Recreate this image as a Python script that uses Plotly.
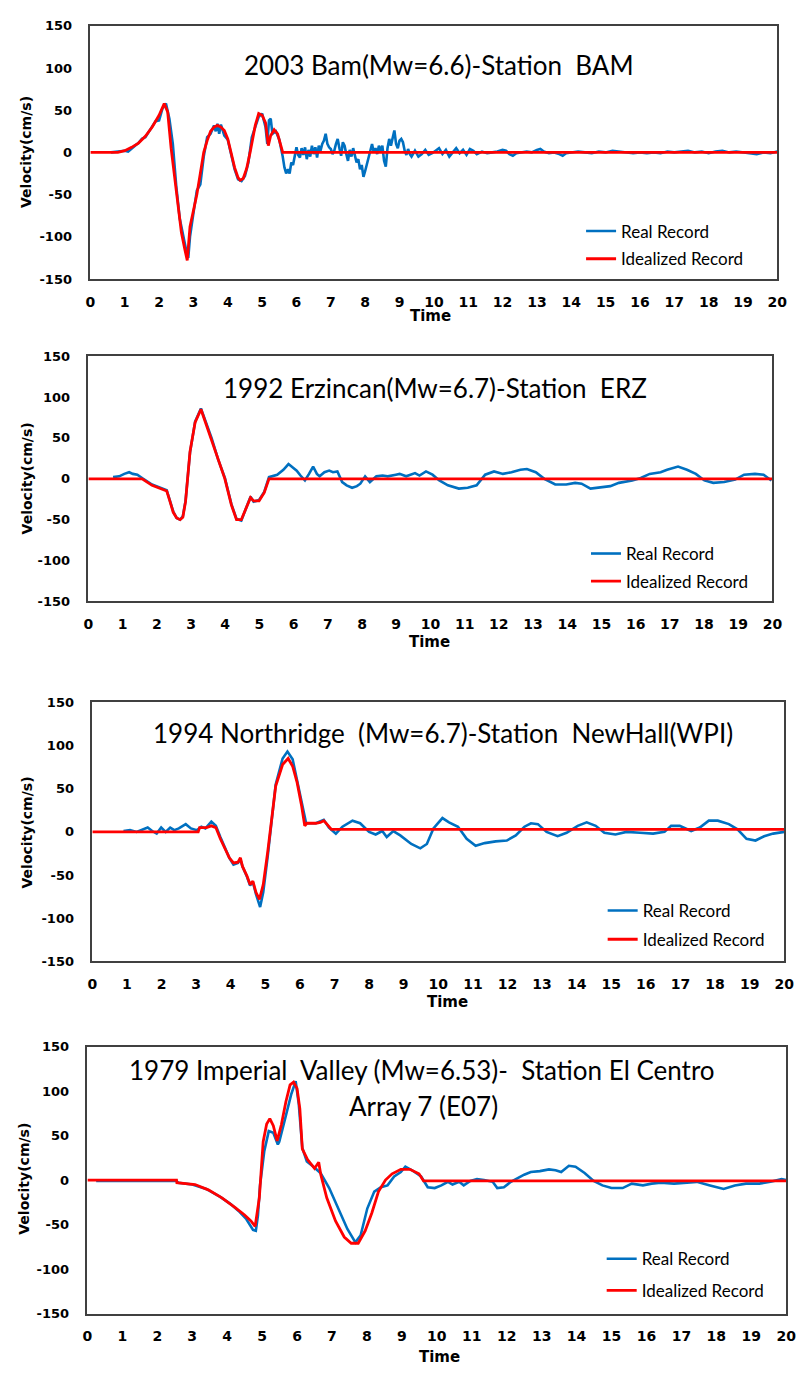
import plotly.graph_objects as go

W, H = 806, 1374

# ---------------- Panel 1 : 2003 Bam ----------------
bam_ideal_t = [0, 0.8, 1.0, 1.2, 1.4, 1.6, 1.8, 2.0, 2.15, 2.25, 2.35, 2.45, 2.55, 2.65, 2.75, 2.82,
               2.9, 3.0, 3.1, 3.2, 3.3, 3.4, 3.5, 3.6, 3.7, 3.8, 3.9, 4.0, 4.1, 4.2, 4.3, 4.36, 4.45,
               4.55, 4.65, 4.72, 4.8, 4.9, 5.0, 5.1, 5.18, 5.25, 5.35, 5.45, 5.55, 5.6, 20]
bam_ideal_v = [0, 0, 2, 6, 11, 19, 30, 44, 58, 48, 5, -30, -65, -95, -115, -128,
               -88, -68, -50, -25, 0, 14, 25, 30, 32, 30, 26, 16, 0, -18, -30, -33, -31,
               -19, 0, 16, 32, 46, 44, 35, 8, 20, 27, 22, 8, 0, 0]
bam_real_t = [0.6, 0.8, 1.0, 1.1, 1.2, 1.3, 1.4, 1.5, 1.6, 1.7, 1.8, 1.9, 2.0, 2.1, 2.2, 2.3, 2.4, 2.5, 2.6, 2.7,
              2.8, 2.85, 2.9, 3.0, 3.1, 3.2, 3.3, 3.4, 3.5, 3.6, 3.65, 3.7, 3.75, 3.8, 3.9, 4.0, 4.1, 4.2, 4.3, 4.4,
              4.5, 4.6, 4.7, 4.8, 4.9, 5.0, 5.1, 5.15, 5.2, 5.25, 5.3, 5.4, 5.5, 5.6, 5.65, 5.7, 5.75, 5.8, 5.85, 5.9,
              6.0, 6.05, 6.1, 6.15, 6.2, 6.25, 6.3, 6.35, 6.4, 6.45, 6.5, 6.55, 6.6, 6.65, 6.7, 6.75, 6.8, 6.85, 6.9, 6.95,
              7.0, 7.05, 7.1, 7.15, 7.2, 7.25, 7.3, 7.35, 7.4, 7.45, 7.5, 7.55, 7.6, 7.65, 7.7, 7.75, 7.8, 7.85, 7.9, 7.95,
              8.0, 8.05, 8.1, 8.15, 8.2, 8.25, 8.3, 8.35, 8.4, 8.45, 8.5, 8.55, 8.6, 8.65, 8.7, 8.75, 8.8, 8.85, 8.9, 8.95,
              9.0, 9.05, 9.1, 9.15, 9.2, 9.25, 9.3, 9.35, 9.45, 9.55, 9.65, 9.75, 9.85, 9.95, 10.05, 10.15, 10.25, 10.35, 10.45, 10.55,
              10.65, 10.75, 10.85, 10.95, 11.05, 11.15, 11.25, 11.4, 11.55, 11.7, 11.85, 12.0, 12.1, 12.2, 12.3, 12.4, 12.55, 12.7, 12.85, 13.0,
              13.1, 13.2, 13.35, 13.5, 13.65, 13.75, 13.85, 14.0, 14.2, 14.4, 14.6, 14.8, 15.0, 15.2, 15.4, 15.6, 15.8, 16.0, 16.2, 16.4,
              16.6, 16.8, 17.0, 17.2, 17.4, 17.6, 17.8, 18.0, 18.2, 18.4, 18.6, 18.8, 19.0, 19.2, 19.4, 19.6, 19.8, 20.0]
bam_real_v = [0, 1, 2, 1, 5, 8, 11, 16, 18, 24, 30, 37, 38, 52, 58, 40, 10, -40, -78, -100,
              -118, -125, -100, -72, -45, -38, -5, 18, 22, 32, 25, 34, 22, 33, 20, 15, -2, -20, -32, -34,
              -28, -12, 18, 30, 42, 46, 30, 10, 38, 40, 22, 25, 15, -5, -18, -25, -20, -25, -12, -15,
              6, -3, -6, 5, -3, 6, -8, 3, -5, 8, -2, 6, -6, 8, 2, 10, 14, 22, 10, 6,
              4, -2, 2, 10, 16, 5, -4, 12, 8, -2, -10, 3, -5, 5, -2, -12, -8, -20, -15, -29,
              -22, -14, -5, 5, 10, 0, 5, -2, 8, 2, 8, -10, -17, 5, 16, 8, 18, 26, 10, 5,
              14, 16, 12, 2, -3, 4, -2, -5, 2, -5, -2, 3, -3, -1, 2, 5, -2, 3, -5, 0,
              5, -1, 3, -3, 4, 2, -2, 1, -1, 0, 1, 3, 2, -2, -4, -1, 0, 1, 0, 3,
              4, 1, -1, 0, -2, -4, -1, 0, 1, 0, -1, 1, 0, 2, 1, 0, -1, 0, -1, 0,
              -1, 1, 0, 1, 2, 0, 1, -1, 1, 2, 0, 1, 0, -1, -2, 0, -1, 1]

# ---------------- Panel 2 : 1992 Erzincan ----------------
erz_ideal_t = [0, 1.57, 1.86, 2.29, 2.38, 2.48, 2.58, 2.68, 2.76, 2.84, 2.97, 3.12, 3.29, 3.45, 3.6,
               3.79, 3.99, 4.18, 4.33, 4.47, 4.62, 4.74, 4.83, 4.99, 5.14, 5.28, 20]
erz_ideal_v = [0, 0, -8, -15, -27, -41, -48, -50, -47, -28, 33, 69, 85, 65, 49,
               23, 0, -32, -50, -50, -36, -23, -27, -27, -17, 0, 0]
erz_real_t = [0.72, 0.9, 1.05, 1.19, 1.3, 1.43, 1.57, 1.86, 2.29, 2.38, 2.48, 2.58, 2.68, 2.76, 2.84, 2.97,
              3.12, 3.29, 3.45, 3.6, 3.79, 3.99, 4.18, 4.33, 4.47, 4.62, 4.74, 4.83, 4.99, 5.14, 5.28, 5.52,
              5.7, 5.85, 5.96, 6.09, 6.2, 6.33, 6.45, 6.57, 6.68, 6.76, 6.9, 7.04, 7.15, 7.28, 7.42, 7.55,
              7.71, 7.85, 7.95, 8.09, 8.23, 8.42, 8.6, 8.75, 8.99, 9.1, 9.29, 9.55, 9.68, 9.87, 10.06, 10.26,
              10.51, 10.83, 11.09, 11.35, 11.6, 11.86, 12.12, 12.37, 12.63, 12.82, 13.08, 13.33, 13.65, 13.97,
              14.23, 14.42, 14.68, 14.94, 15.26, 15.51, 15.9, 16.15, 16.41, 16.73, 16.92, 17.24, 17.5, 17.76,
              18.01, 18.27, 18.59, 18.91, 19.17, 19.49, 19.74, 19.97]
erz_real_v = [2, 3, 6, 8, 6, 5, 1, -7, -14, -26, -40, -48, -50, -46, -27, 32,
              70, 86, 67, 50, 24, 1, -31, -49, -51, -35, -22, -28, -26, -16, 2, 5,
              11, 18, 14, 10, 4, -2, 6, 15, 6, 3, 8, 10, 8, 9, -4, -8,
              -11, -9, -6, 3, -4, 3, 4, 3, 5, 6, 3, 7, 4, 9, 5, -2,
              -8, -12, -11, -8, 5, 9, 6, 8, 11, 12, 8, 0, -7, -7,
              -5, -6, -12, -11, -9, -5, -2, 1, 6, 8, 11, 15, 11, 6,
              -2, -5, -4, -1, 5, 6, 5, -2]

# ---------------- Panel 3 : 1994 Northridge ----------------
nor_ideal_t = [0, 3.06, 3.1, 3.3, 3.44, 3.57, 3.7, 3.83, 3.96, 4.08, 4.21, 4.28, 4.34, 4.47, 4.56, 4.64,
               4.73, 4.83, 4.94, 5.07, 5.17, 5.3, 5.5, 5.66, 5.79, 5.92, 6.05, 6.14, 6.2, 6.46, 6.59,
               6.69, 6.78, 6.91, 20]
nor_ideal_v = [0, 0, 5, 5, 7, 5, -8, -19, -30, -36, -35, -30, -40, -51, -61, -57,
               -70, -78, -61, -23, 11, 53, 78, 85, 76, 57, 30, 7, 10, 10, 11,
               13, 9, 3, 3]
nor_real_t = [0.9, 1.09, 1.28, 1.48, 1.6, 1.73, 1.86, 1.99, 2.12, 2.25, 2.37, 2.5, 2.7, 2.85, 3.02, 3.15,
              3.27, 3.44, 3.57, 3.7, 3.83, 3.96, 4.08, 4.21, 4.28, 4.34, 4.47, 4.56, 4.64, 4.73, 4.85, 4.94,
              5.07, 5.17, 5.3, 5.5, 5.64, 5.79, 5.92, 6.07, 6.18, 6.46, 6.69, 6.84, 7.04, 7.23, 7.52, 7.74,
              8.0, 8.19, 8.38, 8.51, 8.7, 8.9, 9.22, 9.48, 9.67, 9.86, 10.12, 10.31, 10.57, 10.82, 11.08, 11.34,
              11.66, 11.98, 12.24, 12.49, 12.68, 12.88, 13.13, 13.45, 13.71, 14.03, 14.29, 14.55, 14.8, 15.12,
              15.44, 15.83, 16.21, 16.54, 16.73, 16.98, 17.31, 17.56, 17.82, 18.08, 18.4, 18.65, 18.91, 19.17,
              19.42, 19.68, 20.0]
nor_real_v = [1, 2, 0, 3, 5, 1, -2, 5, 0, 5, 2, 4, 9, 4, 2, 6,
              4, 12, 7, -6, -19, -30, -38, -36, -32, -40, -52, -62, -58, -72, -87, -70,
              -28, 10, 55, 85, 93, 84, 60, 30, 10, 10, 14, 5, -2, 6, 13, 10,
              0, -3, 1, -6, 1, -4, -14, -19, -14, 4, 16, 11, 6, -8, -16, -13,
              -11, -10, -4, 6, 10, 9, 0, -5, -1, 7, 11, 7, -1, -3,
              0, -1, -2, 0, 7, 7, 1, 5, 13, 13, 9, 3, -8, -10,
              -5, -2, 0]

# ---------------- Panel 4 : 1979 Imperial Valley ----------------
imp_ideal_t = [0, 2.55, 2.56, 3.08, 3.46, 3.85, 4.23, 4.49, 4.68, 4.8, 4.92, 5.03, 5.13, 5.22, 5.32, 5.43,
               5.55, 5.68, 5.8, 5.9, 6.0, 6.08, 6.15, 6.3, 6.5, 6.62, 6.68, 6.85, 7.1, 7.35, 7.55,
               7.75, 7.95, 8.14, 8.33, 8.53, 8.72, 8.97, 9.23, 9.49, 9.62, 20]
imp_ideal_v = [0, 0, -3, -5, -11, -20, -31, -39, -46, -52, -20, 43, 63, 69, 61, 44,
               62, 88, 107, 110, 103, 80, 35, 23, 13, 20, 6, -20, -46, -64, -71,
               -71, -57, -37, -13, 0, 7, 12, 12, 7, -1, -1]
imp_real_t = [0.25, 2.55, 2.6, 3.0, 3.4, 3.8, 4.1, 4.36, 4.55, 4.74, 4.82, 4.88, 4.94, 5.06, 5.19, 5.32,
              5.45, 5.49, 5.64, 5.83, 5.96, 6.05, 6.15, 6.28, 6.47, 6.67, 6.92, 7.18, 7.44, 7.67, 7.82, 8.01,
              8.21, 8.4, 8.59, 8.78, 8.97, 9.1, 9.29, 9.55, 9.74, 9.94, 10.13, 10.32, 10.45, 10.64, 10.77, 10.96,
              11.15, 11.35, 11.6, 11.73, 11.92, 12.12, 12.31, 12.5, 12.69, 12.95, 13.21, 13.4, 13.56, 13.78,
              13.97, 14.23, 14.49, 14.74, 15.0, 15.32, 15.58, 15.9, 16.15, 16.41, 16.79, 17.12, 17.44, 17.82,
              18.21, 18.53, 18.85, 19.23, 19.55, 19.87, 20.0]
imp_real_v = [-1, -1, -3, -5, -10, -19, -27, -36, -44, -56, -57, -40, -6, 32, 55, 53,
              40, 43, 66, 96, 111, 85, 36, 21, 15, 8, -9, -32, -55, -70, -62, -32,
              -13, -8, -6, 4, 9, 15, 11, 4, -8, -9, -6, -2, -5, -2, -6, -1,
              1, 0, -2, -9, -8, -2, 2, 6, 9, 10, 12, 11, 9, 16,
              15, 8, -1, -6, -9, -9, -4, -6, -4, -3, -4, -3, -2, -6,
              -10, -6, -4, -4, -2, 1, 0]

titles = [["2003 Bam(Mw=6.6)-Station\u00a0 BAM"],
          ["1992 Erzincan(Mw=6.7)-Station\u00a0 ERZ"],
          ["1994 Northridge\u00a0 (Mw=6.7)-Station\u00a0 NewHall(WPI)"],
          ["1979 Imperial\u00a0 Valley (Mw=6.53)-\u00a0 Station El Centro", "Array 7 (E07)"]]
series_names = ["Real Record", "Idealized Record"]
x_ticks = list(range(0, 21))
y_ticks = [-150, -100, -50, 0, 50, 100, 150]

panels = [(bam_real_t, bam_real_v, bam_ideal_t, bam_ideal_v),
          (erz_real_t, erz_real_v, erz_ideal_t, erz_ideal_v),
          (nor_real_t, nor_real_v, nor_ideal_t, nor_ideal_v),
          (imp_real_t, imp_real_v, imp_ideal_t, imp_ideal_v)]
for p in panels:
    assert len(p[0]) == len(p[1]) and len(p[2]) == len(p[3]), (len(p[0]), len(p[1]), len(p[2]), len(p[3]))

# layout geometry (pixels)
boxes = [(87, 787, 19, 275), (85, 782, 353, 601), (89, 794, 703, 965), (84, 796, 1051, 1321)]
title_pos = [[(442, 59)], [(438, 385)], [(446, 734)], [(425, 1075), (426, 1111)]]
time_pos = [(434, 312), (433, 642), (451, 1006), (443, 1365)]
vel_pos = [(22, 147), (22, 477), (22, 835), (19, 1185)]
legend_pos = [[(585, 227), (585, 255)], [(590, 553), (590, 581)],
              [(607, 914), (607, 943)], [(606, 1266), (606, 1298)]]

BLUE = "#0070C0"
RED = "#FF0000"
TICKFONT = "DejaVu Sans"

fig = go.Figure()
layout = dict(width=W, height=H, margin=dict(l=0, r=0, t=0, b=0), showlegend=True,
              paper_bgcolor="white", plot_bgcolor="white", annotations=[])

for i, (rt, rv, it, iv) in enumerate(panels):
    sfx = "" if i == 0 else str(i + 1)
    leg_a = "legend" if i == 0 else "legend" + str(2 * i + 1)
    leg_b = "legend" + str(2 * i + 2)
    fig.add_trace(go.Scatter(x=rt, y=rv, mode="lines", name=series_names[0], showlegend=True,
                             line=dict(color=BLUE, width=2.6), xaxis="x" + sfx, yaxis="y" + sfx,
                             legend=leg_a))
    fig.add_trace(go.Scatter(x=it, y=iv, mode="lines", name=series_names[1], showlegend=True,
                             line=dict(color=RED, width=2.8), xaxis="x" + sfx, yaxis="y" + sfx,
                             legend=leg_b))
    x1, x2, y1, y2 = boxes[i]
    layout["xaxis" + sfx] = dict(domain=[x1 / W, x2 / W], range=[0, 20], anchor="y" + sfx,
                                 tickvals=x_ticks, ticktext=[str(v) for v in x_ticks],
                                 showgrid=False, zeroline=False, showline=True, mirror=True,
                                 linecolor="#404040", linewidth=1.5, ticks="",
                                 ticklabelstandoff=9,
                                 tickfont=dict(family=TICKFONT, size=14, color="black", weight="bold"))
    layout["yaxis" + sfx] = dict(domain=[1 - y2 / H, 1 - y1 / H], range=[-150, 150], anchor="x" + sfx,
                                 tickvals=y_ticks, ticktext=[str(v) for v in y_ticks],
                                 showgrid=False, zeroline=False, showline=True, mirror=True,
                                 linecolor="#404040", linewidth=1.5, ticks="",
                                 ticklabelstandoff=14,
                                 tickfont=dict(family=TICKFONT, size=13, color="black", weight="bold"))
    for (cx, cy), txt in zip(title_pos[i], titles[i]):
        layout["annotations"].append(dict(text=txt, x=cx / W, y=1 - cy / H, xref="paper", yref="paper",
                                          xanchor="center", yanchor="middle", showarrow=False,
                                          font=dict(family="Lato", size=26, color="black")))
    tx, ty = time_pos[i]
    layout["annotations"].append(dict(text="Time", x=tx / W, y=1 - ty / H, xref="paper", yref="paper",
                                      xanchor="center", yanchor="middle", showarrow=False,
                                      font=dict(family=TICKFONT, size=15, color="black", weight="bold")))
    vx, vy = vel_pos[i]
    layout["annotations"].append(dict(text="Velocity(cm/s)", x=vx / W, y=1 - vy / H, xref="paper",
                                      yref="paper", xanchor="center", yanchor="middle", showarrow=False,
                                      textangle=-90,
                                      font=dict(family=TICKFONT, size=14, color="black", weight="bold")))
    for k, leg in enumerate([leg_a, leg_b]):
        lx, ly = legend_pos[i][k]
        layout[leg] = dict(x=(lx + 2) / W, y=1 - ly / H, xanchor="left", yanchor="middle",
                           xref="paper", yref="paper", bgcolor="rgba(0,0,0,0)", borderwidth=0,
                           visible=True,
                           font=dict(family="Lato", size=17, color="black"))

fig.update_layout(**layout)
fig.write_html("out.html")
